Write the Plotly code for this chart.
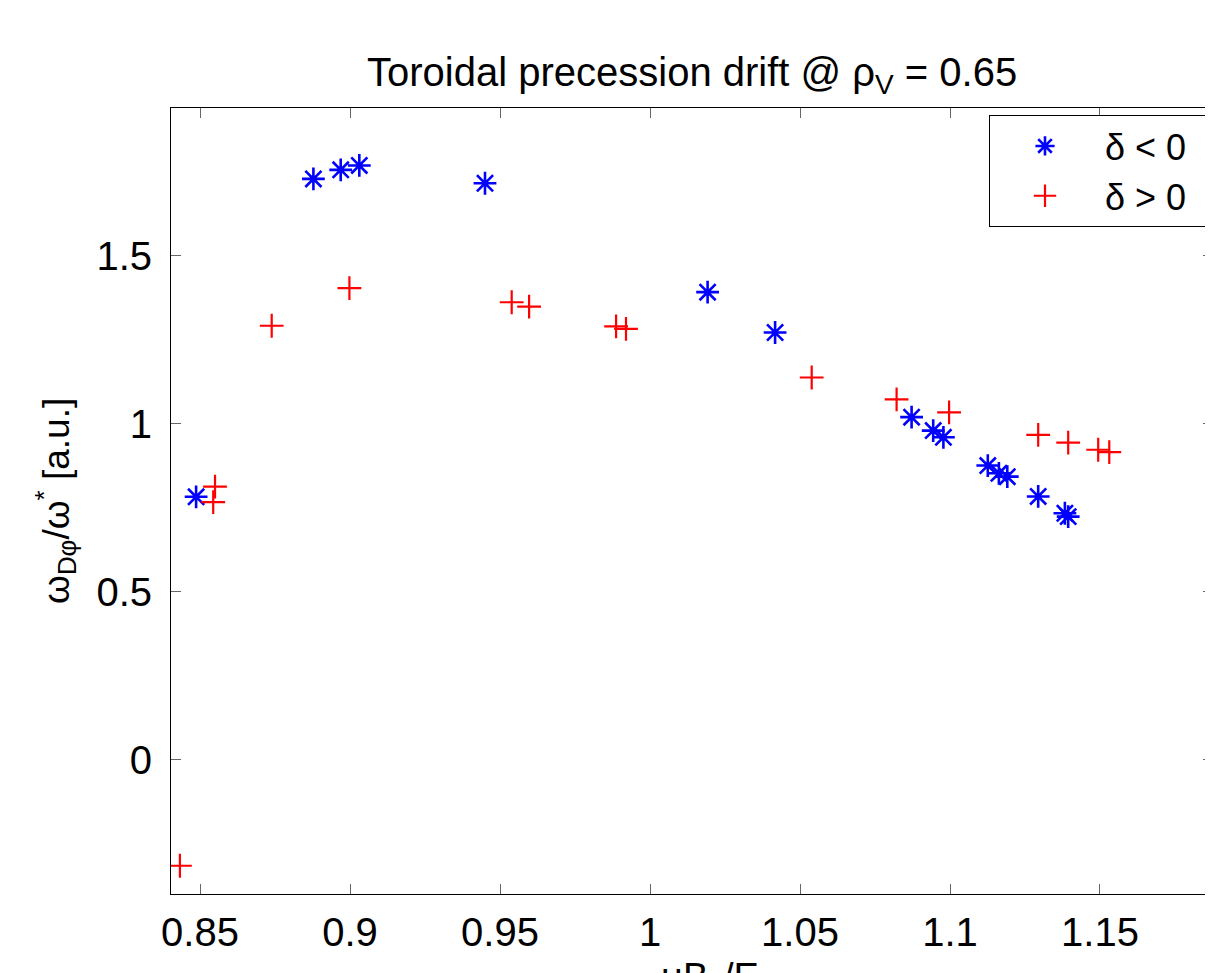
import plotly.graph_objects as go

# delta < 0 (blue asterisks)
neg_x = [0.8487, 0.8878, 0.8969, 0.9031, 0.9450, 1.0192, 1.0417, 1.0872, 1.0944,
         1.0978, 1.1126, 1.1163, 1.1191, 1.1294, 1.1383, 1.1394]
neg_y = [0.783, 1.729, 1.756, 1.769, 1.716, 1.392, 1.272, 1.020, 0.980,
         0.960, 0.876, 0.853, 0.843, 0.784, 0.734, 0.724]

# delta > 0 (red plus)
pos_x = [0.8433, 0.8550, 0.8544, 0.8739, 0.8998, 0.9539, 0.9597, 0.9887, 0.9920,
         1.0539, 1.0822, 1.0997, 1.1294, 1.1394, 1.1494, 1.1531]
pos_y = [-0.315, 0.813, 0.767, 1.292, 1.404, 1.362, 1.349, 1.290, 1.283,
         1.138, 1.073, 1.034, 0.967, 0.944, 0.923, 0.916]

x_ticks = [0.85, 0.9, 0.95, 1.0, 1.05, 1.1, 1.15]
x_ticklabels = ["0.85", "0.9", "0.95", "1", "1.05", "1.1", "1.15"]
y_ticks = [0, 0.5, 1, 1.5]
y_ticklabels = ["0", "0.5", "1", "1.5"]

FONT = "Liberation Sans, Arial, Helvetica, sans-serif"
NB = "\u00a0"

fig = go.Figure()
fig.add_trace(go.Scatter(
    x=neg_x, y=neg_y, mode="markers", name=NB * 4 + "δ < 0" + NB * 2,
    marker=dict(symbol="asterisk-open", size=19, color="#0000ff",
                line=dict(color="#0000ff", width=2.6)),
))
fig.add_trace(go.Scatter(
    x=pos_x, y=pos_y, mode="markers", name=NB * 4 + "δ > 0" + NB * 2,
    marker=dict(symbol="cross-thin-open", size=17, color="#ff0000",
                line=dict(color="#ff0000", width=2.2)),
))

fig.update_layout(
    width=1213, height=973,
    margin=dict(l=163, r=8, t=100, b=87),
    paper_bgcolor="white", plot_bgcolor="white",
    font=dict(family=FONT, size=40, color="black"),
    showlegend=True,
    legend=dict(
        x=1, xanchor="right", y=0.991, yanchor="top",
        bordercolor="black", borderwidth=1, bgcolor="white",
        font=dict(size=36), indentation=35, itemwidth=30,
        tracegroupgap=0,
    ),
    xaxis=dict(
        range=[0.84033, 1.18767], tickvals=x_ticks, ticktext=x_ticklabels,
        showgrid=False, zeroline=False, showline=True, linecolor="black", linewidth=1,
        mirror="ticks", ticks="inside", ticklen=10, tickcolor="#666", tickwidth=1,
        tickfont=dict(size=40), ticklabelstandoff=3,
    ),
    yaxis=dict(
        range=[-0.399, 1.940], tickvals=y_ticks, ticktext=y_ticklabels,
        showgrid=False, zeroline=False, showline=True, linecolor="black", linewidth=1,
        mirror="ticks", ticks="inside", ticklen=10, tickcolor="#666", tickwidth=1,
        tickfont=dict(size=40), ticklabelstandoff=10,
    ),
    annotations=[
        dict(text="Toroidal precession drift @ ρ<sub>V</sub> = 0.65",
             xref="paper", yref="paper", x=0.5, y=1, xanchor="center", yanchor="bottom",
             yshift=6, showarrow=False, font=dict(size=40)),
        dict(text="ω<sub>Dφ</sub>/ω<sup>*</sup> [a.u.]",
             xref="paper", yref="paper", x=0, y=0.5, xanchor="center", yanchor="middle",
             xshift=-116, textangle=-90, showarrow=False, font=dict(size=37)),
        dict(text="μB<sub>0</sub>/E",
             xref="paper", yref="paper", x=0.5, y=0, xanchor="center", yanchor="top",
             yshift=-60, xshift=18, showarrow=False, font=dict(size=38)),
    ],
)

fig.write_html("out.html")
